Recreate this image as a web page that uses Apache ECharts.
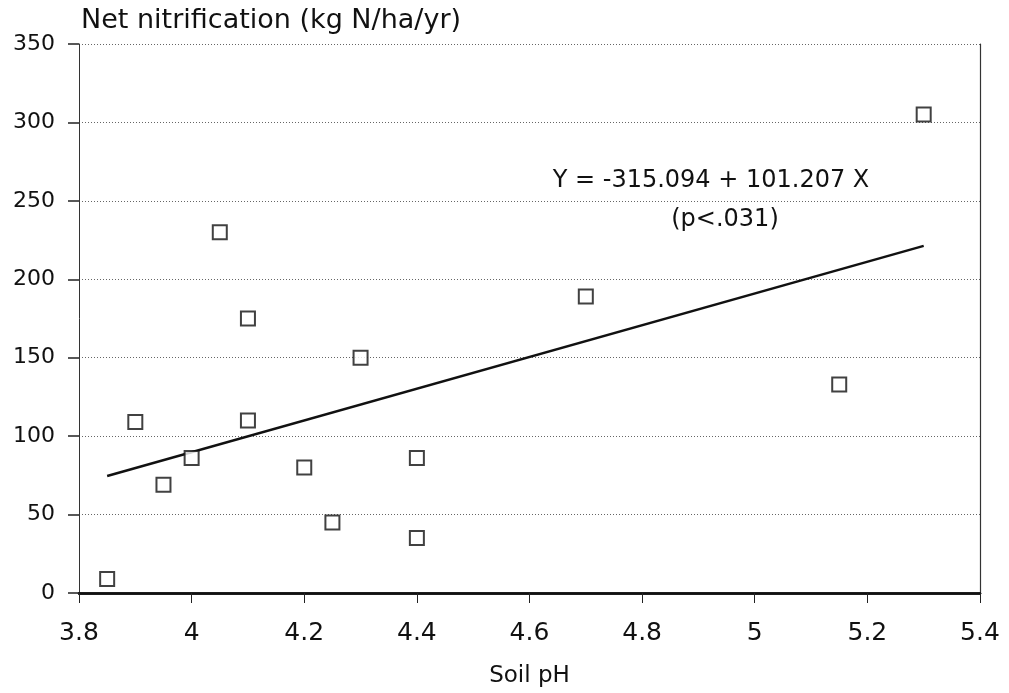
<!DOCTYPE html>
<html>
<head>
<meta charset="utf-8">
<script src="https://cdn.jsdelivr.net/npm/echarts@6/dist/echarts.min.js"></script>
<style>
  html, body { margin: 0; padding: 0; background: #fff; }
  #chart { width: 1009px; height: 693px; }
</style>
</head>
<body>
<div id="chart"></div>
<script>
// Soil pH vs. net nitrification, one point per plot
const soilPH        = [3.85, 3.90, 3.95, 4.00, 4.05, 4.10, 4.10, 4.20, 4.25, 4.30, 4.40, 4.40, 4.70, 5.15, 5.30];
const nitrification = [9,    109,  69,   86,   230,  175,  110,  80,   45,   150,  86,   35,   189,  133,  305];

// Least-squares fit reported on the chart
const fitIntercept = -315.094;
const fitSlope = 101.207;
const fitRange = [3.85, 5.30];

const xTicks = { min: 3.8, max: 5.4, step: 0.2 };
const yTicks = { min: 0, max: 350, step: 50 };

const titleText = 'Net nitrification (kg N/ha/yr)';
const xName = 'Soil pH';
const eqText = 'Y = -315.094 + 101.207 X';
const pText = '(p<.031)';

const FONT = 'DejaVu Sans';

const points = soilPH.map((x, i) => [x, nitrification[i]]);
const fitLine = fitRange.map(x => [x, fitIntercept + fitSlope * x]);

const chart = echarts.init(document.getElementById('chart'), null, { renderer: 'canvas' });

chart.setOption({
  backgroundColor: '#fff',
  animation: false,
  grid: { left: 79, right: 29, top: 44, bottom: 97 },
  xAxis: [{
    type: 'value',
    min: xTicks.min, max: xTicks.max, interval: xTicks.step,
    name: xName, nameLocation: 'middle', nameGap: 72,
    nameTextStyle: { fontFamily: FONT, fontSize: 23, color: '#111' },
    axisLine: { onZero: false, lineStyle: { color: '#111', width: 2.5 } },
    axisTick: { length: 10, lineStyle: { color: '#222', width: 1 } },
    axisLabel: { margin: 28, fontFamily: FONT, fontSize: 25, color: '#111' },
    splitLine: { show: false }
  }, {
    type: 'value', position: 'top',
    min: xTicks.min, max: xTicks.max,
    axisLine: { show: true, lineStyle: { color: '#111', width: 2.5 } },
    axisTick: { show: false }, axisLabel: { show: false }, splitLine: { show: false }
  }],
  yAxis: [{
    type: 'value',
    min: yTicks.min, max: yTicks.max, interval: yTicks.step,
    axisLine: { show: true, onZero: false, lineStyle: { color: '#333', width: 1 } },
    axisTick: { show: true, length: 11, lineStyle: { color: '#222', width: 1.5 } },
    axisLabel: { margin: 24, fontFamily: FONT, fontSize: 22, color: '#111' },
    splitLine: { show: true, lineStyle: { color: '#666', width: 1, type: [1, 2] } }
  }, {
    type: 'value', position: 'right',
    min: yTicks.min, max: yTicks.max,
    axisLine: { show: true, lineStyle: { color: '#333', width: 1.2 } },
    axisTick: { show: false }, axisLabel: { show: false }, splitLine: { show: false }
  }],
  graphic: [
    { type: 'text', left: 81, top: 7,
      style: { text: titleText, font: '27px "' + FONT + '"', fill: '#111' } },
    { type: 'text', x: 711, y: 181,
      style: { text: eqText, font: '24px "' + FONT + '"', fill: '#111', align: 'center', verticalAlign: 'middle' } },
    { type: 'text', x: 725, y: 220,
      style: { text: pText, font: '24px "' + FONT + '"', fill: '#111', align: 'center', verticalAlign: 'middle' } }
  ],
  series: [{
    type: 'line',
    data: fitLine,
    showSymbol: false,
    lineStyle: { color: '#111', width: 2.5 },
    z: 2
  }, {
    type: 'scatter',
    data: points,
    symbol: 'rect',
    symbolSize: 14,
    itemStyle: { color: '#fff', borderColor: '#111', borderWidth: 2 },
    z: 3
  }]
});
</script>
</body>
</html>
